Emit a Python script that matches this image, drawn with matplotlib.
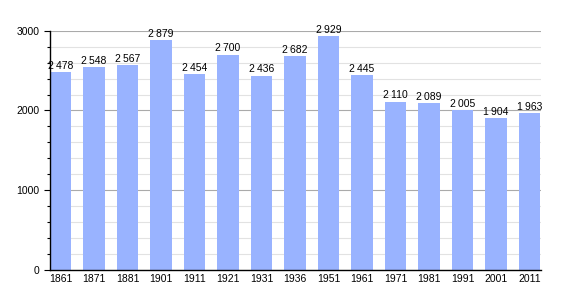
import numpy as np
import matplotlib.pyplot as plt
from matplotlib.ticker import MultipleLocator

years = ['1861', '1871', '1881', '1901', '1911', '1921', '1931', '1936',
         '1951', '1961', '1971', '1981', '1991', '2001', '2011']
population = [2478, 2548, 2567, 2879, 2454, 2700, 2436, 2682,
              2929, 2445, 2110, 2089, 2005, 1904, 1963]

plt.rcParams['font.family'] = ['Liberation Sans', 'DejaVu Sans']

fig = plt.figure(figsize=(5.7, 3.0), dpi=100)
ax = fig.add_axes([0.0877, 0.1, 0.861, 0.7977])

x = np.arange(len(years))
w = 0.63
ax.bar(x, population, width=w, align='edge', color='#99b3ff', zorder=2)

for xi, v in zip(x, population):
    s = f'{v:,}'.replace(',', '\u2009')
    ax.text(xi + w / 2, v + 15, s, ha='center', va='bottom', fontsize=7.5, zorder=3)

ax.set_xlim(0, 14.65)
ax.set_ylim(0, 3000)
ax.set_xticks(x + w / 2)
ax.set_xticklabels(years, fontsize=7.5)
ax.yaxis.set_major_locator(MultipleLocator(1000))
ax.yaxis.set_minor_locator(MultipleLocator(200))
ax.tick_params(axis='y', labelsize=7.5, length=4, width=0.8)
ax.tick_params(axis='y', which='minor', length=2, width=0.8)
ax.tick_params(axis='x', length=0, pad=3)

ax.grid(axis='y', which='major', color='#aaaaaa', linewidth=0.8, zorder=0)
ax.grid(axis='y', which='minor', color='#e2e2e2', linewidth=0.8, zorder=0)
ax.set_axisbelow(True)

for side in ['top', 'right']:
    ax.spines[side].set_visible(False)
ax.spines['left'].set_linewidth(1)
ax.spines['bottom'].set_linewidth(1)

fig.savefig('out.png', dpi=100)
